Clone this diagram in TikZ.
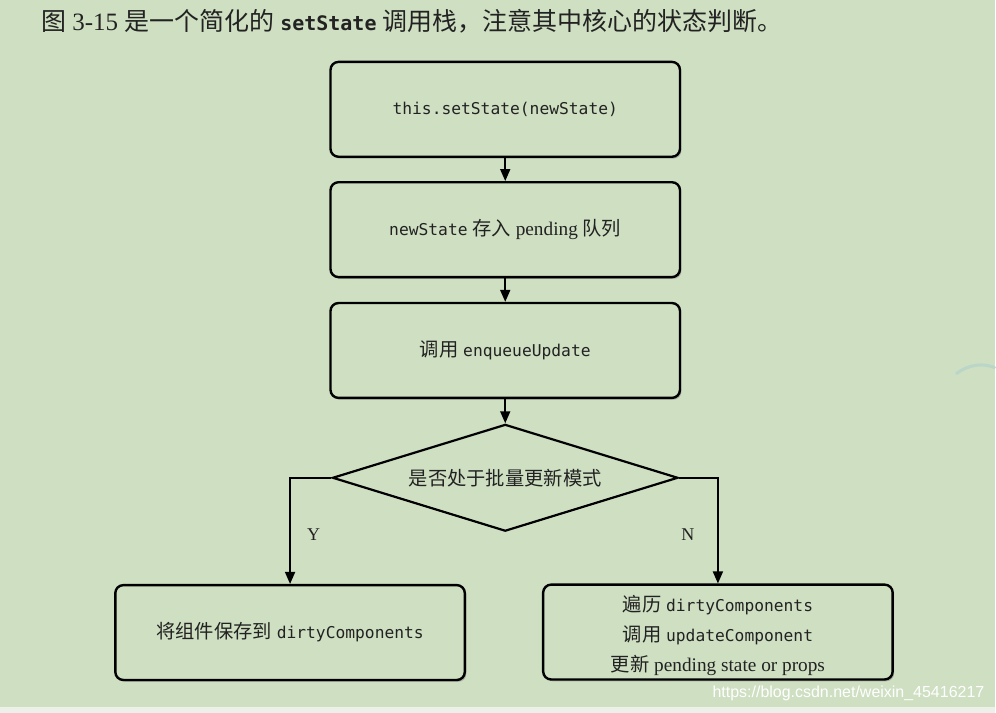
\documentclass[tikz,border=0pt]{standalone}
\usepackage{fontspec}
\setmainfont{Liberation Serif}
\setmonofont{DejaVu Sans Mono}
\newfontfamily\cjk{Noto Sans CJK SC}
\newfontfamily\wmfont{Liberation Sans}
\usetikzlibrary{arrows.meta,shapes.geometric,shadows}
\definecolor{bg}{RGB}{207,223,194}
\definecolor{ink}{RGB}{34,34,34}
\definecolor{strip}{RGB}{236,240,233}
\definecolor{swoosh}{RGB}{186,214,200}
\newcommand\zh[1]{{\cjk #1}}
\newcommand\cd[1]{{\ttfamily\fontsize{16.3}{30}\selectfont #1}}
\tikzset{
  box/.style={draw=black, line width=2.4pt, rounded corners=8pt, fill=bg,
    minimum width=350pt, minimum height=95pt, align=center, text=ink,
    font=\fontsize{19.3}{30}\selectfont,
    drop shadow={shadow xshift=1.5pt, shadow yshift=-1.8pt, opacity=0.5}},
  boxtext/.style={align=center, text=ink, font=\fontsize{19.3}{30}\selectfont},
  decision/.style={draw=black, line width=2.2pt, shape=diamond, aspect=3.2,
    inner sep=0pt, minimum width=346pt, minimum height=107pt, fill=bg,
    text=ink, font=\fontsize{19.3}{30}\selectfont},
  arr/.style={draw=black, line width=1.8pt, -{Triangle[length=12pt,width=10pt]}},
  lbl/.style={text=ink, font=\fontsize{18}{20}\selectfont},
}
\begin{document}
\begin{tikzpicture}[x=1pt,y=-1pt]
\fill[bg] (0,0) rectangle (996,714);
\fill[strip] (0,708) rectangle (996,714);
\draw[swoosh, line width=3pt, line cap=round] (958,374) .. controls (972,364) and (985,364) .. (996,368);
\node[anchor=west, text=ink, inner sep=0pt] (title) at (41,21)
  {\fontsize{25}{28}\selectfont\zh{图} 3-15 \zh{是一个简化的} {\ttfamily\bfseries\fontsize{20}{28}\selectfont setState} \zh{调用栈，注意其中核心的状态判断。}};
\node[box] (b1) at (506,109.5) {\cd{this.setState(newState)}};
\node[box] (b2) at (506,230) {\cd{newState} \zh{存入} pending \zh{队列}};
\node[box] (b3) at (506,351) {\zh{调用} \cd{enqueueUpdate}};
\node[decision] (d) at (506,478.5) {\zh{是否处于批量更新模式}};
\node[box] (b4) at (290.5,633.5) {\zh{将组件保存到} \cd{dirtyComponents}};
\node[box] (b5) at (719,633) {};
\node[boxtext] (b5t) at (719,636.5) {\zh{遍历} \cd{dirtyComponents}\\ \zh{调用} \cd{updateComponent}\\ \zh{更新} pending state or props};
\draw[arr] (b1) -- (b2);
\draw[arr] (b2) -- (b3);
\draw[arr] (b3) -- (d);
\draw[arr] (d.west) -| (b4.north);
\draw[arr] (d.east) -| (b5.north);
\node[lbl] (y) at (314,535) {Y};
\node[lbl] (n) at (689,535) {N};
\node[anchor=east, text=white, inner sep=0pt, font=\wmfont\fontsize{16}{18}\selectfont] (wm) at (986,694) {https://blog.csdn.net/weixin\_45416217};
\end{tikzpicture}
\end{document}
